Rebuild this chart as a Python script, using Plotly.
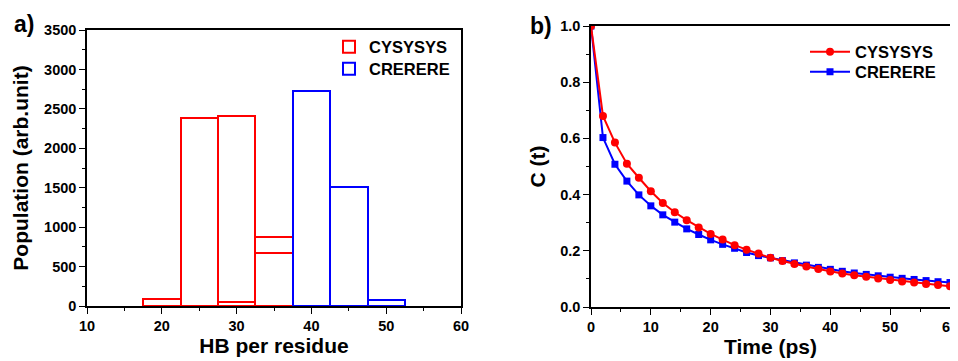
import plotly.graph_objects as go

# ---- Panel a) histogram data ----
hb_bins_cys = [20, 25, 30, 35]
pop_cys = [90, 2390, 2410, 880]
hb_bins_cre = [30, 35, 40, 45, 50]
pop_cre = [50, 670, 2730, 1510, 70]
cre_edge_colors = ["#ff0000", "#ff0000", "#0000ff", "#0000ff", "#0000ff"]

# ---- Panel b) correlation data ----
time_ps = [0, 2, 4, 6, 8, 10, 12, 14, 16, 18, 20, 22, 24, 26, 28, 30,
           32, 34, 36, 38, 40, 42, 44, 46, 48, 50, 52, 54, 56, 58, 60]
c_cys = [1.0, 0.68, 0.585, 0.51, 0.46, 0.412, 0.37, 0.337, 0.309, 0.283, 0.26,
         0.24, 0.22, 0.204, 0.19, 0.175, 0.164, 0.153, 0.144, 0.135, 0.126,
         0.119, 0.113, 0.108, 0.101, 0.096, 0.091, 0.087, 0.082, 0.078, 0.074]
c_cre = [1.0, 0.603, 0.508, 0.448, 0.399, 0.36, 0.328, 0.302, 0.278, 0.258, 0.239,
         0.223, 0.209, 0.194, 0.183, 0.175, 0.165, 0.157, 0.149, 0.141, 0.134,
         0.127, 0.121, 0.116, 0.111, 0.106, 0.102, 0.098, 0.094, 0.09, 0.087]

RED = "#ff0000"
BLUE = "#0000ff"
FONT = "Liberation Sans, Arial, sans-serif"

# page body has an 8px margin: figure is 950x353 placed at (8, 8)
OFF = 8
FW, FH = 958 - OFF, 361 - OFF


def px(x):
    return (x - OFF) / FW


def py(y):
    return 1 - (y - OFF) / FH


fig = go.Figure()

fig.add_trace(go.Bar(
    x=hb_bins_cys, y=pop_cys, width=5, name="CYSYSYS",
    marker=dict(color="rgba(0,0,0,0)", line=dict(color=RED, width=2)),
    xaxis="x", yaxis="y", legend="legend",
))
fig.add_trace(go.Bar(
    x=hb_bins_cre, y=pop_cre, width=5, name="CRERERE",
    marker=dict(color="rgba(0,0,0,0)", line=dict(color=cre_edge_colors, width=2)),
    xaxis="x", yaxis="y", showlegend=False,
))
# legend entry for CRERERE (blue outline)
fig.add_trace(go.Bar(
    x=[None], y=[None], width=5, name="CRERERE",
    marker=dict(color="rgba(0,0,0,0)", line=dict(color=BLUE, width=2)),
    xaxis="x", yaxis="y", legend="legend3",
))

fig.add_trace(go.Scatter(
    x=time_ps, y=c_cre, mode="lines+markers", name="CRERERE",
    line=dict(color=BLUE, width=2), marker=dict(symbol="square", size=7, color=BLUE),
    xaxis="x2", yaxis="y2", legend="legend4",
))
fig.add_trace(go.Scatter(
    x=time_ps, y=c_cys, mode="lines+markers", name="CYSYSYS",
    line=dict(color=RED, width=2), marker=dict(symbol="circle", size=8, color=RED),
    xaxis="x2", yaxis="y2", legend="legend2",
))

tickfont = dict(family=FONT, size=14.5, color="black", weight="bold")
titlefont = dict(family=FONT, size=21, color="black", weight="bold")
legfont = dict(family=FONT, size=16.5, color="black", weight="bold")

axis_common = dict(
    showline=True, linecolor="black", linewidth=1.5, mirror=True,
    ticks="outside", ticklen=6, tickwidth=1.2, tickcolor="black",
    showgrid=False, zeroline=False, tickfont=tickfont, automargin=False,
    ticklabeloverflow="allow",
)


def leg(xs, yc, **kw):
    return dict(x=px(xs), y=py(yc), xanchor="left", yanchor="middle",
                bgcolor="rgba(0,0,0,0)", font=legfont, **kw)


fig.update_layout(
    width=FW, height=FH,
    margin=dict(l=0, r=0, t=0, b=0),
    paper_bgcolor="white", plot_bgcolor="white",
    barmode="overlay", bargap=0,
    xaxis=dict(domain=[px(87), px(461)], range=[10, 60], dtick=10, tick0=0,
               minor=dict(dtick=5, ticks="outside", ticklen=3, tickcolor="black"),
               title=dict(text="HB per residue", font=titlefont, standoff=4),
               anchor="y", **axis_common),
    yaxis=dict(domain=[py(306), py(30)], range=[0, 3500], dtick=500,
               minor=dict(dtick=250, ticks="outside", ticklen=3, tickcolor="black"),
               title=dict(text="Population (arb.unit)", font=titlefont, standoff=10),
               anchor="x", **axis_common),
    xaxis2=dict(domain=[px(591), px(950)], range=[0, 60], dtick=10, tick0=0,
                minor=dict(dtick=5, ticks="outside", ticklen=3, tickcolor="black"),
                title=dict(text="Time (ps)", font=titlefont, standoff=4),
                anchor="y2", **axis_common),
    yaxis2=dict(domain=[py(307), py(26)], range=[0, 1], dtick=0.2, tickformat=".1f",
                minor=dict(dtick=0.1, ticks="outside", ticklen=3, tickcolor="black"),
                title=dict(text="C (t)", font=titlefont, standoff=9),
                anchor="x2", **axis_common),
    legend=leg(329, 47),
    legend3=leg(329, 69),
    legend2=leg(805, 52, itemwidth=40),
    legend4=leg(805, 72, itemwidth=40),
    annotations=[
        dict(text="a)", x=px(23.5), y=py(24), xref="paper", yref="paper",
             xanchor="center", yanchor="middle",
             showarrow=False, font=dict(family=FONT, size=23, color="black", weight="bold")),
        dict(text="b)", x=px(541), y=py(26), xref="paper", yref="paper",
             xanchor="center", yanchor="middle",
             showarrow=False, font=dict(family=FONT, size=23, color="black", weight="bold")),
    ],
)

fig.write_html("out.html")
